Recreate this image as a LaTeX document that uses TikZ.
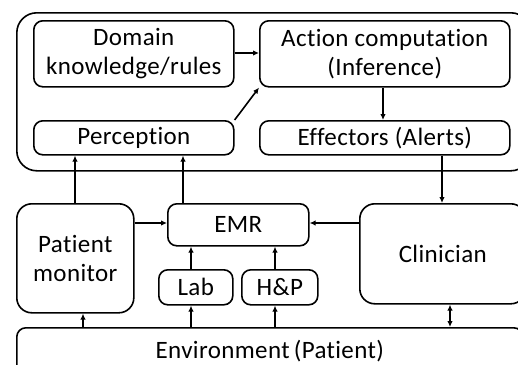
\documentclass[tikz,border=0pt]{standalone}
\usepackage{fontspec}
\setmainfont[Ligatures={NoCommon},LetterSpace=1.5]{Carlito}
\usetikzlibrary{arrows.meta}
\begin{document}
\begin{tikzpicture}[x=1pt,y=-1pt,
  box/.style={draw,line width=1.6pt,rounded corners=9pt,anchor=north west,inner sep=0pt,align=center,
    font=\fontsize{25}{29}\selectfont},
  bigbox/.style={box,rounded corners=15pt},
  arr/.style={line width=1.6pt,-{Latex[length=6pt,width=5.5pt]}},
  darr/.style={line width=1.6pt,{Latex[length=6pt,width=5.5pt]}-{Latex[length=6pt,width=5.5pt]}}]
\useasboundingbox (0,0) rectangle (518,364);
\clip (0,0) rectangle (518,364);
% outer agent box
\node[box,rounded corners=20pt,minimum width=514pt,minimum height=158pt] (agent) at (16,12) {};
\node[box,minimum width=200pt,minimum height=66pt] (dom) at (33,20) {Domain\\knowledge/rules};
\node[box,minimum width=250pt,minimum height=66pt] (act) at (259,20) {Action computation\\(Inference)};
\node[box,minimum width=200pt,minimum height=34pt] (per) at (33,120) {Perception};
\node[box,minimum width=250pt,minimum height=34pt] (eff) at (259,120) {Effectors (Alerts)};
\node[bigbox,minimum width=117pt,minimum height=109pt] (pm) at (16,203) {Patient\\monitor};
\node[box,minimum width=141pt,minimum height=42pt] (emr) at (167,203) {EMR};
\node[box,minimum width=74pt,minimum height=35pt] (lab) at (158,269) {Lab};
\node[box,minimum width=76pt,minimum height=35pt] (hp) at (241,269) {H\&P};
\node[bigbox,minimum width=166pt,minimum height=100pt] (cli) at (359,203) {Clinician};
\node[box,minimum width=506pt,minimum height=46pt] (env) at (16,327) {Environment\,(Patient)};
% connectors
\draw[arr] (dom.east |- 0,53) -- (act.west |- 0,53);
\draw[arr] (per.north east) -- (act.south west);
\draw[arr] (act.south -| 383,0) -- (eff.north -| 383,0);
\draw[arr] (eff.south -| 442,0) -- (cli.north -| 442,0);
\draw[arr] (pm.north -| 75,0) -- (per.south -| 75,0);
\draw[arr] (emr.north -| 183,0) -- (per.south -| 183,0);
\draw[arr] (pm.east |- 0,223) -- (emr.west |- 0,223);
\draw[arr] (cli.west |- 0,223) -- (emr.east |- 0,223);
\draw[arr] (lab.north -| 191,0) -- (emr.south -| 191,0);
\draw[arr] (hp.north -| 275,0) -- (emr.south -| 275,0);
\draw[arr] (env.north -| 83,0) -- (pm.south -| 83,0);
\draw[arr] (env.north -| 191,0) -- (lab.south -| 191,0);
\draw[arr] (env.north -| 275,0) -- (hp.south -| 275,0);
\draw[darr] (cli.south -| 450,0) -- (env.north -| 450,0);
\end{tikzpicture}
\end{document}
